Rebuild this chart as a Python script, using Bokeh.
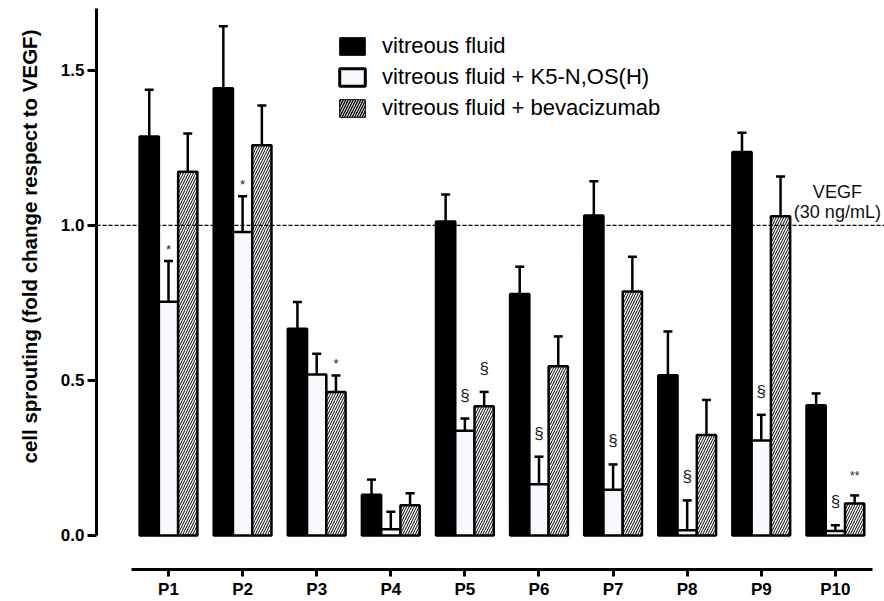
from bokeh.plotting import figure
from bokeh.models import (ColumnDataSource, Range1d, FixedTicker, Whisker, TeeHead,
                          Span, Label, Legend, LegendItem, NumeralTickFormatter, Title)
from bokeh.core.properties import value
from bokeh.embed import file_html
from bokeh.resources import INLINE

# ---------------- data ----------------
patients = ["P1", "P2", "P3", "P4", "P5", "P6", "P7", "P8", "P9", "P10"]
series_names = ["vitreous fluid", "vitreous fluid + K5-N,OS(H)", "vitreous fluid + bevacizumab"]

vf_mean = [1.287, 1.443, 0.667, 0.131, 1.013, 0.779, 1.032, 0.517, 1.237, 0.420]
vf_sem = [0.151, 0.200, 0.086, 0.049, 0.087, 0.088, 0.111, 0.141, 0.062, 0.038]

k5_mean = [0.754, 0.979, 0.519, 0.020, 0.338, 0.165, 0.147, 0.017, 0.306, 0.014]
k5_sem = [0.131, 0.115, 0.067, 0.056, 0.039, 0.089, 0.082, 0.096, 0.083, 0.019]

bev_mean = [1.173, 1.259, 0.463, 0.097, 0.417, 0.546, 0.787, 0.324, 1.030, 0.103]
bev_sem = [0.124, 0.128, 0.053, 0.039, 0.046, 0.096, 0.112, 0.113, 0.128, 0.026]

# significance marks: patient, series index (0 vf, 1 k5, 2 bev), symbol
ann_patient = ["P1", "P2", "P3", "P5", "P5", "P6", "P7", "P8", "P9", "P10", "P10"]
ann_series = [1, 1, 2, 1, 2, 1, 1, 1, 1, 1, 2]
ann_symbol = ["*", "*", "*", "§", "§", "§", "§", "§", "§", "§", "**"]

y_ticks = [0.0, 0.5, 1.0, 1.5]
vegf_level = 1.0
vegf_text = ["VEGF", "(30 ng/mL)"]
y_label = "cell sprouting (fold change respect to VEGF)"

# ---------------- styling ----------------
FONT = "Liberation Sans"
BAR_W = 0.26
WHITE = "#f7f8fe"
Y_MAX = 1.70
pos = list(range(1, len(patients) + 1))

p = figure(width=884, height=601, output_backend="svg", toolbar_location=None,
           x_range=Range1d(0.0283, 10.663), y_range=Range1d(-0.11, Y_MAX),
           min_border_left=96, min_border_right=0, min_border_top=8, min_border_bottom=28)
p.outline_line_color = None
p.xgrid.visible = False
p.ygrid.visible = False
p.background_fill_color = "white"
p.border_fill_color = "white"

means = [vf_mean, k5_mean, bev_mean]
sems = [vf_sem, k5_sem, bev_sem]
bar_styles = [
    dict(fill_color="black"),
    dict(fill_color=WHITE),
    dict(fill_color="white", hatch_pattern="/", hatch_color="black", hatch_scale=5, hatch_weight=1),
]
uppers_all = []
for i, (m, s, st) in enumerate(zip(means, sems, bar_styles)):
    xs = [x + (i - 1) * BAR_W for x in pos]
    up = [a + b for a, b in zip(m, s)]
    uppers_all.append(up)
    src = ColumnDataSource(dict(x=xs, top=m, upper=up))
    w = Whisker(base="x", lower="top", upper="upper", source=src, dimension="height",
                line_width=2.5, line_color="black",
                upper_head=TeeHead(size=9, line_width=2.5, line_color="black"), lower_head=None)
    p.add_layout(w)
    p.vbar(x="x", top="top", bottom=0, width=BAR_W, source=src,
           line_color="black", line_width=2.5, **st)

# significance marks
sym_size = {"*": "13px", "**": "12px", "§": "17px"}
sym_off = {"*": -4, "**": -12, "§": -14}
for sym in sym_size:
    ax, ay = [], []
    for pt, si, sy in zip(ann_patient, ann_series, ann_symbol):
        if sy != sym:
            continue
        k = patients.index(pt)
        ax.append(pos[k] + (si - 1) * BAR_W)
        ay.append(uppers_all[si][k])
    if ax:
        p.text(x=ax, y=ay, text=[sym] * len(ax), text_font=value(FONT),
               text_font_size=sym_size[sym], text_align="center", text_baseline="bottom",
               y_offset=sym_off[sym], text_color="#222222")

# VEGF reference line
p.add_layout(Span(location=vegf_level, dimension="width", line_color="black",
                  line_width=1.2, line_dash="4 2"))
p.add_layout(Label(x=pos[-1], y=vegf_level, x_offset=2, y_offset=33, text=vegf_text[0],
                   text_font=FONT, text_font_size="18px", text_align="center",
                   text_baseline="middle", text_color="#111111"))
p.add_layout(Label(x=pos[-1], y=vegf_level, x_offset=2, y_offset=13, text=vegf_text[1],
                   text_font=FONT, text_font_size="18px", text_align="center",
                   text_baseline="middle", text_color="#111111"))

# legend (dedicated swatches, never drawn in the plot area)
nan_src = ColumnDataSource(dict(x=[float("nan")], top=[float("nan")]))
leg_styles = [
    dict(fill_color="black", line_color="black", line_width=1),
    dict(fill_color=WHITE, line_color="black", line_width=3),
    dict(fill_color="black", line_color="black", line_width=1, hatch_pattern="/",
         hatch_color="white", hatch_scale=5, hatch_weight=1),
]
items = []
for name, st in zip(series_names, leg_styles):
    r = p.vbar(x="x", top="top", width=0.1, source=nan_src, **st)
    items.append(LegendItem(label=name, renderers=[r]))
legend = Legend(items=items, location=(240, 448), glyph_width=32, glyph_height=22,
                label_text_font=FONT, label_text_font_size="22px", label_text_color="black",
                spacing=5, padding=0, margin=0, border_line_color=None,
                background_fill_alpha=0, label_standoff=14)
p.add_layout(legend)

# axes
ya = p.yaxis[0]
ya.ticker = FixedTicker(ticks=y_ticks)
ya.formatter = NumeralTickFormatter(format="0.0")
ya.bounds = (0, Y_MAX)
ya.axis_line_width = 3
ya.major_tick_line_width = 3
ya.major_tick_out = 9
ya.major_tick_in = 0
ya.minor_tick_line_color = None
ya.major_label_text_font = FONT
ya.major_label_text_font_size = "17px"
ya.major_label_text_font_style = "bold"
ya.major_label_text_color = "black"
ya.major_label_standoff = 3

# y-axis title as a side title, anchored near the lower end of the axis
p.add_layout(Title(text=y_label, align="left", offset=106, vertical_align="top", standoff=30,
                   text_font=FONT, text_font_size="20.5px", text_font_style="bold",
                   text_color="black"), "left")

xa = p.xaxis[0]
xa.ticker = FixedTicker(ticks=pos)
xa.major_label_overrides = {x: name for x, name in zip(pos, patients)}
xa.bounds = (0.5, len(patients) + 0.5)
xa.axis_line_width = 3
xa.major_tick_line_width = 3
xa.major_tick_out = 7
xa.major_tick_in = 0
xa.minor_tick_line_color = None
xa.major_label_text_font = FONT
xa.major_label_text_font_size = "17px"
xa.major_label_text_font_style = "bold"
xa.major_label_text_color = "black"
xa.major_label_standoff = 3

open("out.html", "w").write(file_html(p, INLINE))
